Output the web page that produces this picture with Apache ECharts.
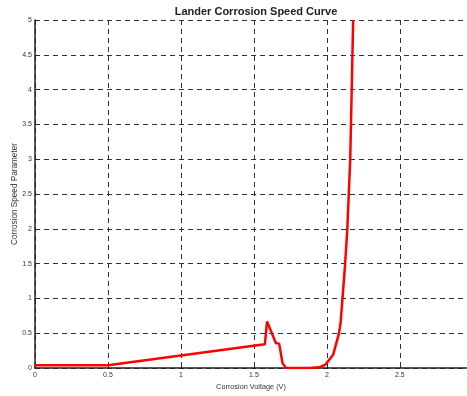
<!DOCTYPE html>
<html>
<head>
<meta charset="utf-8">
<script src="https://cdn.jsdelivr.net/npm/echarts@6/dist/echarts.min.js"></script>
<style>html,body{margin:0;padding:0;background:#fff}#c{width:467px;height:396px}</style>
</head>
<body>
<div id="c"></div>
<script>
var voltage = [0, 0.5, 1.575, 1.59, 1.65, 1.673, 1.696, 1.72, 1.88, 1.95, 1.99, 2.043, 2.083, 2.094, 2.107, 2.125, 2.14, 2.15, 2.16, 2.17, 2.18];
var speed   = [0.04, 0.04, 0.34, 0.67, 0.36, 0.35, 0.07, 0.0, 0.0, 0.01, 0.05, 0.19, 0.5, 0.65, 1.0, 1.5, 2.0, 2.5, 3.0, 4.0, 5.0];
var xTicks = [0, 0.5, 1, 1.5, 2, 2.5];
var yTicks = [0, 0.5, 1, 1.5, 2, 2.5, 3, 3.5, 4, 4.5, 5];

var data = voltage.map(function (v, i) { return [v, speed[i]]; });
var chart = echarts.init(document.getElementById('c'), null, {renderer: 'canvas'});
var font = 'Liberation Sans, Arial, sans-serif';
var dashed = {show: true, lineStyle: {color: '#333', type: [5, 4], width: 1}};
chart.setOption({
  animation: false,
  title: {
    text: 'Lander Corrosion Speed Curve', left: 251, textAlign: 'center', top: 1,
    textStyle: {fontFamily: font, fontSize: 11, fontWeight: 'bold', color: '#222'}
  },
  grid: {left: 35, right: 0, top: 20, bottom: 28, containLabel: false, outerBoundsMode: 'none'},
  xAxis: {
    type: 'value', min: 0, max: 2.96, interval: 0.5,
    name: 'Corrosion Voltage (V)', nameLocation: 'middle', nameGap: 15, nameMoveOverlap: false,
    nameTextStyle: {fontFamily: font, fontSize: 7.3, color: '#333'},
    axisLine: {show: true, lineStyle: {color: '#222', width: 1.5}},
    axisTick: {show: true, inside: true, length: 3, lineStyle: {color: '#222'}},
    axisLabel: {fontFamily: font, fontSize: 7, color: '#333', margin: 4, showMaxLabel: false,
      formatter: function (v) { return xTicks.indexOf(v) >= 0 ? String(v) : ''; }},
    splitLine: dashed
  },
  yAxis: {
    type: 'value', min: 0, max: 5, interval: 0.5,
    name: 'Corrosion Speed Parameter', nameLocation: 'middle', nameGap: 16, nameMoveOverlap: false,
    nameTextStyle: {fontFamily: font, fontSize: 8.2, color: '#333'},
    axisLine: {show: true, lineStyle: {color: '#222', width: 1.5}},
    axisTick: {show: true, inside: true, length: 3, lineStyle: {color: '#222'}},
    axisLabel: {fontFamily: font, fontSize: 7, color: '#333', margin: 3,
      formatter: function (v) { return yTicks.indexOf(v) >= 0 ? String(v) : ''; }},
    splitLine: dashed
  },
  series: [{
    type: 'line', data: data, showSymbol: false, smooth: false,
    lineStyle: {color: '#ff0000', width: 2.5}
  }]
});
</script>
</body>
</html>
